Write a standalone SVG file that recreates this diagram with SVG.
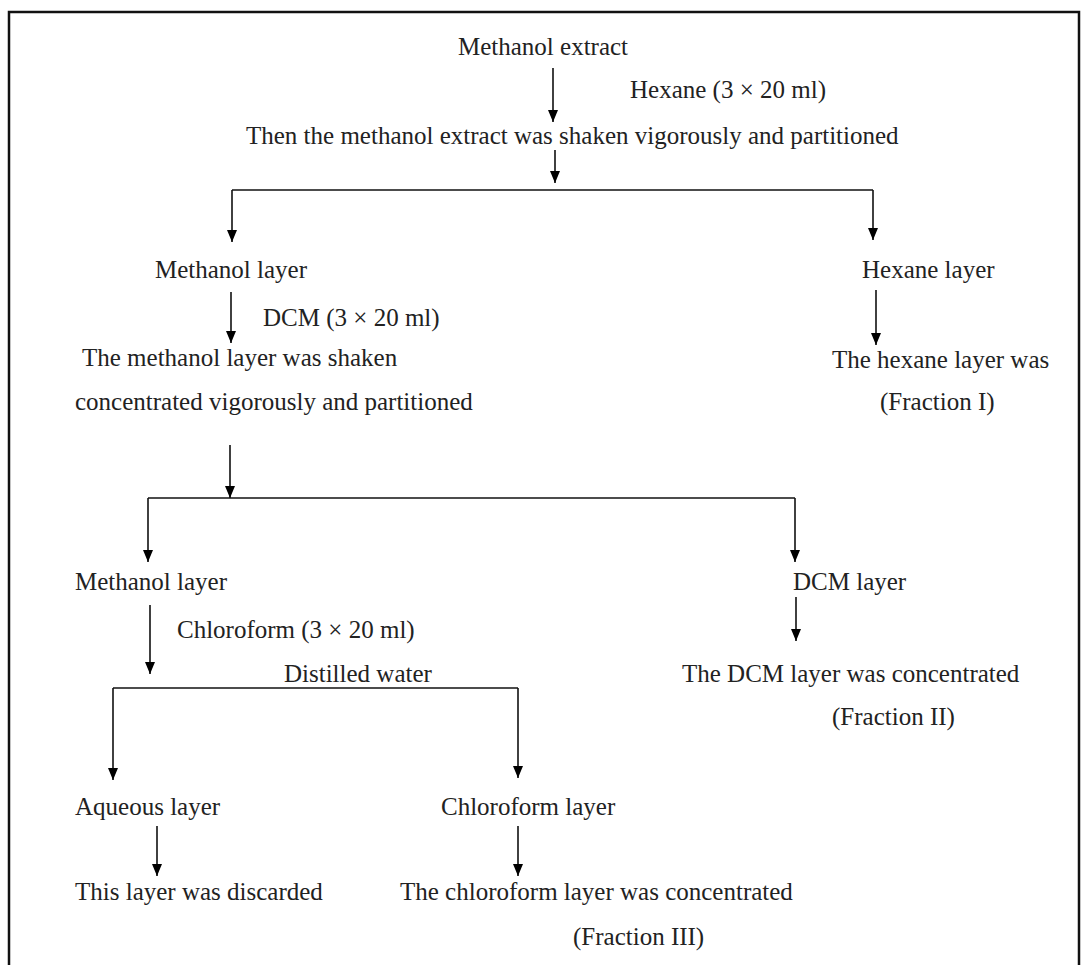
<svg xmlns="http://www.w3.org/2000/svg" width="1086" height="965" viewBox="0 0 1086 965">
<defs>
<marker id="ah" viewBox="0 0 12 10" refX="12" refY="5" markerWidth="12" markerHeight="10" orient="auto" markerUnits="userSpaceOnUse">
<path d="M0,0 L12,5 L0,10 z" fill="#000"/>
</marker>
<style>
text{font-family:"Liberation Serif","Times New Roman",serif;font-size:25px;fill:#222;}
.c{stroke:#111;stroke-width:1.6;fill:none;}
.a{stroke:#111;stroke-width:1.6;fill:none;marker-end:url(#ah);}
</style>
</defs>
<rect width="1086" height="965" fill="#fff"/>
<path d="M9,965 V12 H1079 V965" fill="none" stroke="#111" stroke-width="2.5"/>
<g id="connectors">
<line class="a" x1="553" y1="68" x2="553" y2="122"/>
<line class="a" x1="555" y1="150" x2="555" y2="183"/>
<line class="c" x1="232" y1="190" x2="873" y2="190"/>
<line class="a" x1="232" y1="190" x2="232" y2="242"/>
<line class="a" x1="873" y1="190" x2="873" y2="240"/>
<line class="a" x1="231" y1="292" x2="231" y2="343"/>
<line class="a" x1="876" y1="290" x2="876" y2="345"/>
<line class="a" x1="230" y1="445" x2="230" y2="498"/>
<line class="c" x1="148" y1="498" x2="795" y2="498"/>
<line class="a" x1="148" y1="498" x2="148" y2="562"/>
<line class="a" x1="795" y1="498" x2="795" y2="562"/>
<line class="a" x1="150" y1="605" x2="150" y2="674"/>
<line class="a" x1="796" y1="597" x2="796" y2="641"/>
<line class="c" x1="113" y1="688" x2="518" y2="688"/>
<line class="a" x1="113" y1="688" x2="113" y2="780"/>
<line class="a" x1="518" y1="688" x2="518" y2="778"/>
<line class="a" x1="157" y1="826" x2="157" y2="876"/>
<line class="a" x1="518" y1="826" x2="518" y2="876"/>
</g>
<g id="n-extract"><text x="458" y="55">Methanol extract</text></g>
<g id="n-hexane-add"><text x="630" y="98">Hexane (3 × 20 ml)</text></g>
<g id="n-shaken1"><text x="246" y="144">Then the methanol extract was shaken vigorously and partitioned</text></g>
<g id="n-meoh1"><text x="155" y="278">Methanol layer</text></g>
<g id="n-hexlayer"><text x="862" y="278">Hexane layer</text></g>
<g id="n-dcm-add"><text x="263" y="326">DCM (3 × 20 ml)</text></g>
<g id="n-shaken2"><text x="82" y="366">The methanol layer was shaken</text><text x="75" y="410">concentrated vigorously and partitioned</text></g>
<g id="n-frac1"><text x="832" y="368">The hexane layer was</text><text x="880" y="410">(Fraction I)</text></g>
<g id="n-meoh2"><text x="75" y="590">Methanol layer</text></g>
<g id="n-dcmlayer"><text x="793" y="590">DCM layer</text></g>
<g id="n-chcl3-add"><text x="177" y="638">Chloroform (3 × 20 ml)</text></g>
<g id="n-water"><text x="284" y="682">Distilled water</text></g>
<g id="n-frac2"><text x="682" y="682">The DCM layer was concentrated</text><text x="832" y="725">(Fraction II)</text></g>
<g id="n-aqueous"><text x="75" y="815">Aqueous layer</text></g>
<g id="n-chcl3layer"><text x="441" y="815">Chloroform layer</text></g>
<g id="n-discard"><text x="75" y="900">This layer was discarded</text></g>
<g id="n-frac3"><text x="400" y="900">The chloroform layer was concentrated</text><text x="573" y="945">(Fraction III)</text></g>
</svg>
